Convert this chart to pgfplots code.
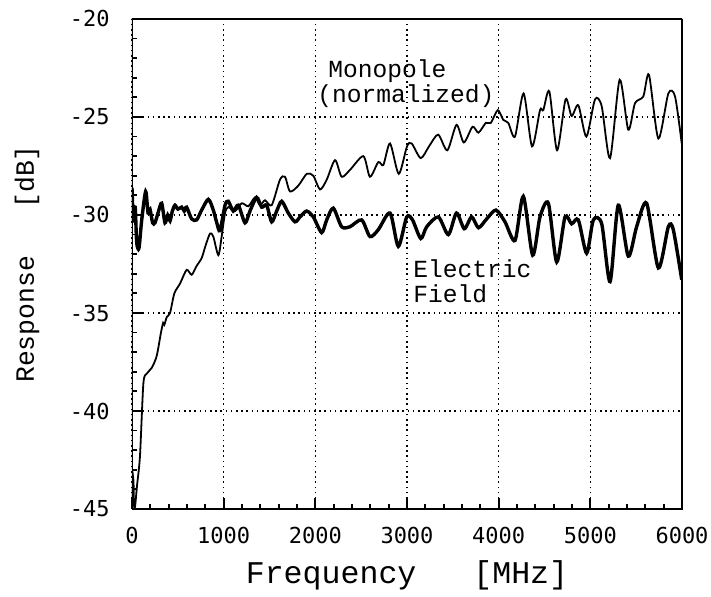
\documentclass[border=0pt]{standalone}
\usepackage{fontspec}
\usepackage{pgfplots}
\usepackage{pgfplotstable}
\pgfplotsset{compat=1.18}
\setmainfont{Liberation Mono}
\newfontfamily\tickfont{DejaVu Sans Mono}

% electric field response
\pgfplotstableread{
f db
0 -28.6
15 -30.3
35 -29.6
51 -31.4
76 -31.7
105 -30.3
149 -28.8
175 -29.9
196 -29.7
225 -30.4
251 -30.4
290 -29.8
324 -29.4
360 -30.4
390 -30.0
415 -30.3
440 -29.8
469 -29.5
500 -29.7
542 -29.6
570 -29.8
596 -29.6
651 -30.2
705 -30.25
760 -29.75
833 -29.2
887 -29.75
925 -30.4
960 -30.8
1015 -29.5
1051 -29.3
1105 -29.8
1160 -29.5
1233 -30.4
1287 -29.8
1360 -29.1
1415 -29.6
1469 -29.5
1524 -30.35
1578 -29.8
1633 -29.3
1705 -29.9
1778 -30.35
1833 -30.1
1905 -29.8
1978 -30.1
2069 -30.9
2124 -30.25
2196 -29.65
2287 -30.6
2378 -30.6
2505 -30.25
2596 -31.1
2687 -30.75
2815 -29.9
2905 -31.6
2997 -30.1
3060 -30.25
3150 -31.2
3215 -30.6
3342 -30.1
3451 -31.0
3540 -29.9
3625 -30.7
3705 -30.1
3780 -30.65
3869 -30.2
3970 -29.75
4069 -30.35
4178 -31.3
4269 -29.05
4371 -32.05
4451 -30.1
4542 -29.4
4633 -32.4
4724 -30.1
4796 -30.45
4869 -30.25
4960 -31.95
5033 -30.25
5124 -30.45
5215 -33.4
5305 -29.5
5414 -32.1
5505 -30.6
5614 -29.4
5742 -32.7
5851 -30.6
5905 -30.75
5997 -33.3
}\electric

% monopole (normalized)
\pgfplotstableread{
f db
0 -45
15 -43.5
22 -44.8
33 -44.9
55 -43.8
87 -42.3
124 -38.6
160 -38.1
215 -37.8
269 -37.2
316 -36.0
340 -35.5
353 -35.6
380 -35.2
415 -35.0
462 -34.0
524 -33.5
596 -32.8
651 -33.05
705 -32.6
760 -32.2
800 -31.6
851 -30.95
887 -31.1
942 -32.05
978 -31.1
1015 -29.9
1051 -29.6
1124 -29.8
1196 -29.4
1270 -29.55
1342 -29.1
1396 -29.5
1451 -29.25
1524 -29.5
1614 -28.2
1669 -28.05
1724 -28.8
1815 -28.5
1906 -27.9
1978 -28.0
2051 -28.7
2124 -28.2
2215 -27.2
2287 -28.05
2378 -27.7
2524 -27.0
2596 -28.05
2687 -27.3
2742 -27.45
2815 -26.35
2910 -27.9
3000 -26.5
3051 -26.35
3150 -27.1
3240 -26.5
3340 -25.9
3440 -26.7
3540 -25.4
3620 -26.3
3715 -25.5
3780 -25.8
3860 -25.3
3915 -25.3
3990 -24.65
4051 -25.15
4105 -25.3
4178 -26.0
4272 -23.8
4364 -26.5
4451 -24.65
4487 -24.65
4553 -23.7
4637 -26.7
4730 -24.1
4796 -24.95
4869 -24.4
4957 -26.0
5051 -24.1
5124 -24.45
5215 -27.1
5320 -23.1
5414 -25.65
5487 -24.3
5578 -23.95
5640 -22.85
5742 -26.1
5851 -23.8
5924 -23.95
5997 -26.35
}\monopole

\begin{document}
\begin{tikzpicture}
\begin{axis}[
    scale only axis,
    width=275pt, height=245pt,
    xmin=0, xmax=6000, ymin=-45, ymax=-20,
    xtick={0,1000,...,6000},
    ytick={-45,-40,...,-20},
    minor tick num=4,
    xtick pos=bottom, ytick pos=left,
    tick align=inside,
    major tick length=5.5pt, minor tick length=2.5pt,
    every tick/.style={black, line width=0.9pt},
    grid=major,
    grid style={black, line width=0.8pt, dash pattern=on 0.8pt off 1.8pt},
    /pgf/number format/assume math mode=true,
    /pgf/number format/1000 sep={},
    ticklabel style={font=\tickfont\fontsize{11}{11}\selectfont, inner sep=0pt},
    xticklabel style={yshift=-9pt},
    yticklabel style={xshift=-11pt},
    xlabel={Frequency\ \ \ [MHz]},
    ylabel={Response\ \ \ [dB]},
    xlabel style={font=\fontsize{15.8}{16}\selectfont, at={(axis description cs:0.5,-0.1347)}, anchor=center},
    ylabel style={font=\fontsize{13.2}{14}\selectfont, at={(axis description cs:-0.191,0.5)}, anchor=center},
]
\addplot[black, line width=1.7pt, smooth, tension=0.45] table[x=f, y=db] {\electric};
\addplot[black, line width=0.9pt, smooth, tension=0.45] table[x=f, y=db] {\monopole};

\node[anchor=west, inner sep=0pt, font=\fontsize{12.3}{13}\selectfont] at (axis cs:2138,-22.65) {Monopole};
\node[anchor=west, inner sep=0pt, font=\fontsize{12.3}{13}\selectfont] at (axis cs:2018,-23.93) {(normalized)};
\node[anchor=west, inner sep=0pt, font=\fontsize{12.3}{13}\selectfont] at (axis cs:3065,-32.76) {Electric};
\node[anchor=west, inner sep=0pt, font=\fontsize{12.3}{13}\selectfont] at (axis cs:3065,-34.03) {Field};

% heavier frame, as in the original plotter output
\draw[black, line width=1.3pt] (rel axis cs:0,0) rectangle (rel axis cs:1,1);

\coordinate (ll) at (rel axis cs:0,0);
\coordinate (ur) at (rel axis cs:1,1);
\end{axis}
\path ([shift={(-66pt,-43.5pt)}]ll) rectangle ([shift={(14.5pt,9.5pt)}]ur);
\end{tikzpicture}
\end{document}
